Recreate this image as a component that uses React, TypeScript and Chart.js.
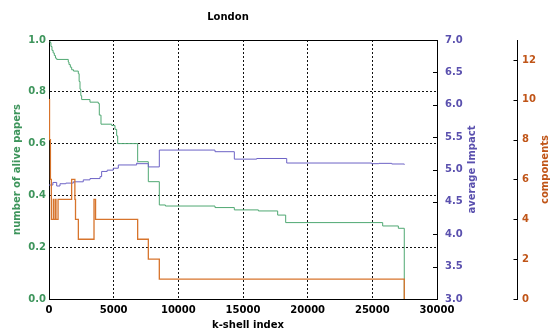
import React, { useEffect, useRef } from "react";
import { Chart, registerables } from "chart.js";

Chart.register(...registerables);

// ---- data ----
const aliveX = [0, 80, 150, 230, 320, 410, 500, 595, 1490, 1546, 1650, 1753, 1900, 2266, 2330, 2397, 2460, 2526, 3170, 3812, 3889, 4020, 4845, 5103, 5232, 5310, 6855, 7680, 8530, 9000, 12835, 14330, 16190, 17680, 18300, 25800, 27010, 27470];
const aliveY = [1.0, 0.99, 0.975, 0.96, 0.95, 0.94, 0.93, 0.925, 0.915, 0.905, 0.895, 0.885, 0.88, 0.87, 0.84, 0.81, 0.785, 0.77, 0.76, 0.755, 0.71, 0.675, 0.67, 0.655, 0.63, 0.6, 0.53, 0.453, 0.363, 0.359, 0.353, 0.344, 0.34, 0.324, 0.295, 0.282, 0.273, 0.0];

const impactX = [0, 300, 595, 850, 1300, 1880, 2650, 3170, 3945, 4070, 4500, 4970, 5360, 6780, 6855, 7680, 8530, 12835, 14330, 16060, 18380, 24950, 25500, 26500, 27470];
const impactY = [4.76, 4.8, 4.745, 4.78, 4.79, 4.81, 4.84, 4.86, 4.89, 4.97, 4.99, 5.02, 5.07, 5.1, 5.09, 5.04, 5.3, 5.275, 5.16, 5.17, 5.1, 5.09, 5.095, 5.085, 5.075];

const compX = [0, 40, 110, 180, 335, 360, 490, 540, 700, 1750, 2000, 2050, 2270, 3480, 3600, 6855, 7680, 8530, 27470];
const compY = [10, 8, 6, 4, 5, 4, 5, 4, 5, 6, 5, 4, 3, 5, 4, 3, 2, 1, 0];

const xTickStep = 5000;
const xMax = 30000;
const aliveTickStep = 0.2;
const impactMin = 3;
const impactMax = 7;
const impactTickStep = 0.5;
const compMax = 13;
const compTickStep = 2;

const titleText = "London";
const xTitle = "k-shell index";
const aliveTitle = "number of alive papers";
const impactTitle = "average Impact";
const compTitle = "components";

// ---- styles ----
const GREEN_LINE = "#4fa872";
const GREEN_TEXT = "#3e955c";
const PURPLE_LINE = "#6d63c6";
const PURPLE_TEXT = "#5a50ae";
const ORANGE_LINE = "#d7742c";
const ORANGE_TEXT = "#c05518";
const FONT = "'DejaVu Sans', sans-serif";

const pts = (xs: number[], ys: number[]) => xs.map((x, i) => ({ x, y: ys[i] }));

const decorPlugin = {
  id: "decor",
  afterDraw(chart: any) {
    const { ctx, chartArea } = chart;
    const { left, right, top, bottom } = chartArea;
    const y1 = chart.scales.y1;
    const y2 = chart.scales.y2;
    ctx.save();
    // top frame
    ctx.strokeStyle = "#000";
    ctx.lineWidth = 1;
    ctx.setLineDash([]);
    ctx.beginPath();
    ctx.moveTo(left, Math.round(top) + 0.5);
    ctx.lineTo(right, Math.round(top) + 0.5);
    ctx.stroke();
    // inward ticks on impact axis
    ctx.beginPath();
    y1.ticks.forEach((t: any) => {
      const py = Math.round(y1.getPixelForValue(t.value)) + 0.5;
      ctx.moveTo(right, py);
      ctx.lineTo(right - 4, py);
    });
    // ticks on component axis
    const x2 = Math.round(y2.left) + 0.5;
    y2.ticks.forEach((t: any) => {
      const py = Math.round(y2.getPixelForValue(t.value)) + 0.5;
      ctx.moveTo(x2, py);
      ctx.lineTo(x2 - 4, py);
    });
    ctx.stroke();

    // titles
    ctx.textAlign = "center";
    ctx.textBaseline = "middle";
    ctx.font = `bold 10px ${FONT}`;
    ctx.fillStyle = "#000";
    ctx.fillText(titleText, 228, 17);
    ctx.fillText(xTitle, 248, 325);
    const midY = (top + bottom) / 2;
    const vText = (txt: string, x: number, color: string) => {
      ctx.save();
      ctx.translate(x, midY);
      ctx.rotate(-Math.PI / 2);
      ctx.fillStyle = color;
      ctx.fillText(txt, 0, 0);
      ctx.restore();
    };
    vText(aliveTitle, 17, GREEN_TEXT);
    vText(impactTitle, 472, PURPLE_TEXT);
    vText(compTitle, 545, ORANGE_TEXT);
    ctx.restore();
  },
};

export default function App() {
  const ref = useRef<HTMLCanvasElement | null>(null);
  useEffect(() => {
    if (!ref.current) return;
    Chart.defaults.font.family = FONT;
    const tickFont = { family: FONT, size: 10, weight: "bold" as const };
    const chart = new Chart(ref.current, {
      type: "line",
      data: {
        datasets: [
          {
            label: "components",
            data: pts(compX, compY),
            yAxisID: "y2",
            borderColor: ORANGE_LINE,
            borderWidth: 1.3,
            pointRadius: 0,
            stepped: "before",
            fill: false,
          },
          {
            label: "average Impact",
            data: pts(impactX, impactY),
            yAxisID: "y1",
            borderColor: PURPLE_LINE,
            borderWidth: 1,
            pointRadius: 0,
            stepped: "before",
            fill: false,
          },
          {
            label: "number of alive papers",
            data: pts(aliveX, aliveY),
            yAxisID: "y",
            borderColor: GREEN_LINE,
            borderWidth: 1,
            pointRadius: 0,
            stepped: "before",
            fill: false,
          },
        ],
      },
      options: {
        responsive: false,
        animation: false,
        devicePixelRatio: 1,
        layout: { padding: { top: 40, left: 0, right: 0, bottom: 0 } },
        plugins: { legend: { display: false }, tooltip: { enabled: false }, title: { display: false } },
        scales: {
          x: {
            type: "linear",
            min: 0,
            max: xMax,
            ticks: {
              stepSize: xTickStep,
              color: "#000",
              font: tickFont,
              padding: 5,
              maxRotation: 0,
              callback: (v: any) => String(v),
            },
            grid: { color: "#111", lineWidth: 1, drawTicks: false },
            border: { display: true, color: "#000", width: 1, dash: [2, 2] },
            afterFit: (s: any) => {
              s.height = 32;
            },
          },
          y: {
            position: "left",
            min: 0,
            max: 1,
            ticks: {
              stepSize: aliveTickStep,
              color: GREEN_TEXT,
              font: tickFont,
              padding: 3,
              callback: (v: any) => Number(v).toFixed(1),
            },
            grid: { color: "#111", lineWidth: 1, drawTicks: false },
            border: { display: true, color: "#000", width: 1, dash: [2, 2] },
            afterFit: (s: any) => {
              s.width = 49;
            },
          },
          y1: {
            position: "right",
            min: impactMin,
            max: impactMax,
            ticks: {
              stepSize: impactTickStep,
              color: PURPLE_TEXT,
              font: tickFont,
              padding: 8,
              callback: (v: any) => Number(v).toFixed(1),
            },
            grid: { display: false, drawTicks: false },
            border: { display: true, color: "#000", width: 1 },
            afterFit: (s: any) => {
              s.width = 80;
            },
          },
          y2: {
            position: "right",
            min: 0,
            max: compMax,
            ticks: {
              stepSize: compTickStep,
              includeBounds: false,
              color: ORANGE_TEXT,
              font: tickFont,
              padding: 5,
              callback: (v: any) => String(v),
            },
            grid: { display: false, drawTicks: false },
            border: { display: true, color: "#000", width: 1 },
            afterFit: (s: any) => {
              s.width = 33;
            },
          },
        },
      },
      plugins: [decorPlugin],
    });
    return () => chart.destroy();
  }, []);
  return (
    <div style={{ position: "absolute", left: 0, top: 0, width: 550, height: 331, background: "#fff" }}>
      <canvas ref={ref} width={550} height={331} />
    </div>
  );
}
